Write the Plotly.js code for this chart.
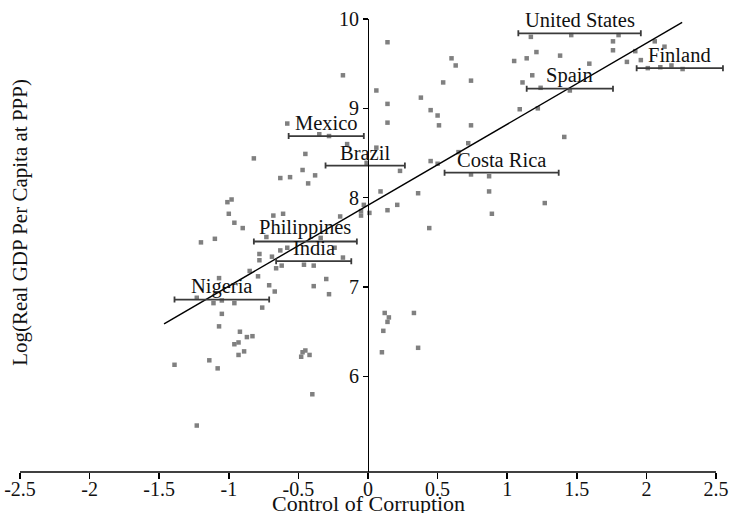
<!DOCTYPE html>
<html>
<head>
<meta charset="utf-8">
<script src="https://cdn.plot.ly/plotly-3.0.1.min.js"></script>
<style>html,body{margin:0;padding:0;background:#fff;}#chart{width:729px;height:513px;}</style>
</head>
<body>
<div id="chart"></div>
<script>
// Scatter of countries: control of corruption vs log GDP per capita
const corruption = [0.14,1.17,1.46,1.80,1.76,2.06,2.13,1.76,1.92,1.21,1.14,1.05,1.38,1.86,1.96,1.59,2.01,2.10,2.18,2.26,
  0.60,0.63,0.54,0.74,1.18,1.11,1.24,1.45,0.14,0.38,0.45,0.50,0.51,0.74,0.14,1.09,1.22,1.41,0.72,0.65,
  0.45,0.50,0.23,0.74,0.87,0.36,0.87,0.09,1.27,0.89,0.21,0.14,-0.03,-0.05,-0.05,0.01,0.44,0.12,0.15,0.14,
  0.11,0.33,0.10,0.36,-0.18,0.06,-0.58,-0.35,-0.28,-0.15,0.06,-0.01,-0.45,-0.82,-0.47,-0.63,-0.56,-0.38,-0.43,-1.01,
  -0.98,-1.00,-0.96,-0.90,-0.68,-0.61,-1.20,-1.10,-0.73,-0.34,-0.20,-0.78,-0.78,-0.69,-0.63,-0.58,-0.24,-0.18,-0.85,-0.79,
  -0.66,-0.62,-0.46,-0.39,-0.30,-0.39,-0.28,-0.71,-0.67,-1.07,-1.23,-1.11,-1.05,-0.96,-0.76,-1.05,-1.07,-0.92,-0.87,-0.83,
  -0.96,-0.93,-0.93,-0.89,-1.39,-1.14,-1.08,-0.47,-0.45,-0.48,-0.42,-0.40,-1.23];
const logGdp = [9.74,9.80,9.82,9.82,9.75,9.75,9.69,9.65,9.64,9.63,9.56,9.53,9.59,9.52,9.54,9.50,9.45,9.46,9.48,9.44,
  9.56,9.48,9.29,9.31,9.37,9.29,9.23,9.20,9.05,9.12,8.98,8.92,8.81,8.81,8.84,8.99,9.00,8.68,8.61,8.51,
  8.41,8.38,8.30,8.26,8.24,8.05,8.07,8.07,7.94,7.82,7.92,7.86,7.92,7.85,7.80,7.83,7.66,6.71,6.66,6.61,
  6.51,6.71,6.27,6.32,9.37,9.20,8.83,8.71,8.69,8.60,8.56,8.39,8.49,8.44,8.31,8.22,8.23,8.25,8.16,7.95,
  7.98,7.82,7.72,7.66,7.80,7.82,7.50,7.54,7.56,7.55,7.79,7.37,7.30,7.34,7.41,7.44,7.44,7.33,7.18,7.12,
  7.21,7.24,7.25,7.24,7.09,7.01,6.92,7.02,6.95,7.10,6.88,6.82,6.85,6.82,6.77,6.70,6.56,6.50,6.44,6.45,
  6.36,6.38,6.24,6.28,6.13,6.18,6.09,6.27,6.29,6.22,6.24,5.80,5.45];

// Highlighted countries with estimate margins
const countryNames = ["United States","Finland","Spain","Costa Rica","Mexico","Brazil","Philippines","India","Nigeria"];
const countryX     = [1.52, 2.24, 1.45, 0.96, -0.30, -0.02, -0.45, -0.39, -1.05];
const countryY     = [9.84, 9.45, 9.22, 8.28, 8.69, 8.36, 7.51, 7.29, 6.86];
const countryErr   = [0.44, 0.31, 0.31, 0.41, 0.27, 0.285, 0.37, 0.27, 0.34];

// Fitted regression line endpoints
const fitX = [-1.465, 2.257];
const fitY = [6.588, 9.962];

const xTickVals = [-2.5,-2,-1.5,-1,-0.5,0,0.5,1,1.5,2,2.5];
const xTickText = ["-2.5","-2","-1.5","-1","-0.5","0","0.5","1","1.5","2","2.5"];
const yTickVals = [6,7,8,9,10];
const yTickText = ["6","7","8","9","10"];

const FONT = "Liberation Serif";
const X_MIN = -2.5, X_AXIS_END = 2.5, X_MAX = 2.5575;

const traces = [
  {
    type: "scatter", mode: "markers", x: corruption, y: logGdp,
    marker: {symbol: "square", size: 4.5, color: "#808080"},
    hoverinfo: "skip", cliponaxis: false
  },
  {
    type: "scatter", mode: "lines", x: fitX, y: fitY,
    line: {color: "#000", width: 1.4}, hoverinfo: "skip"
  },
  {
    type: "scatter", mode: "markers", x: countryX, y: countryY,
    marker: {size: 2, color: "rgba(0,0,0,0)"},
    error_x: {type: "data", array: countryErr, visible: true, color: "#3a3a3a", thickness: 1.8, width: 3},
    cliponaxis: false, hoverinfo: "skip"
  }
];

const annotations = countryNames.map((n, i) => ({
  x: countryX[i], y: countryY[i], xref: "x", yref: "y",
  text: n, showarrow: false, xanchor: "center", yanchor: "bottom",
  font: {family: FONT, size: 20.5, color: "#111"}
}));
annotations.push({
  x: 0, xref: "x", y: -0.07, yref: "paper", text: "Control of Corruption",
  showarrow: false, xanchor: "center", yanchor: "middle",
  font: {family: FONT, size: 22, color: "#111"}
});
annotations.push({
  x: 0.0, xref: "paper", y: 0.55, yref: "paper", text: "Log(Real GDP Per Capita at PPP)",
  showarrow: false, xanchor: "center", yanchor: "middle", textangle: -90,
  font: {family: FONT, size: 21, color: "#111"}
});

const layout = {
  width: 729, height: 513,
  margin: {l: 20, r: 5, t: 19, b: 41},
  paper_bgcolor: "#fff", plot_bgcolor: "#fff",
  showlegend: false,
  font: {family: FONT, size: 20, color: "#111"},
  xaxis: {
    range: [X_MIN, X_MAX], tickvals: xTickVals, ticktext: xTickText,
    showgrid: false, zeroline: false, showline: false,
    ticks: "outside", ticklen: 6, tickwidth: 1.5, tickcolor: "#000",
    ticklabelstandoff: -7,
    tickfont: {family: FONT, size: 20, color: "#111"}, automargin: false
  },
  yaxis: {
    range: [4.93, 10], tickvals: yTickVals, ticktext: yTickText,
    anchor: "free", position: (0 - X_MIN) / (X_MAX - X_MIN), side: "left",
    showgrid: false, zeroline: false, showline: true, linecolor: "#000", linewidth: 1.5,
    ticks: "outside", ticklen: 5, tickwidth: 1.5, tickcolor: "#000",
    tickfont: {family: FONT, size: 20, color: "#111"}, automargin: false
  },
  shapes: [{
    type: "line", xref: "x", yref: "paper", x0: X_MIN, x1: X_AXIS_END, y0: 0, y1: 0,
    line: {color: "#000", width: 1.5}
  }],
  annotations: annotations
};

Plotly.newPlot("chart", traces, layout, {displayModeBar: false, staticPlot: true});
</script>
</body>
</html>
